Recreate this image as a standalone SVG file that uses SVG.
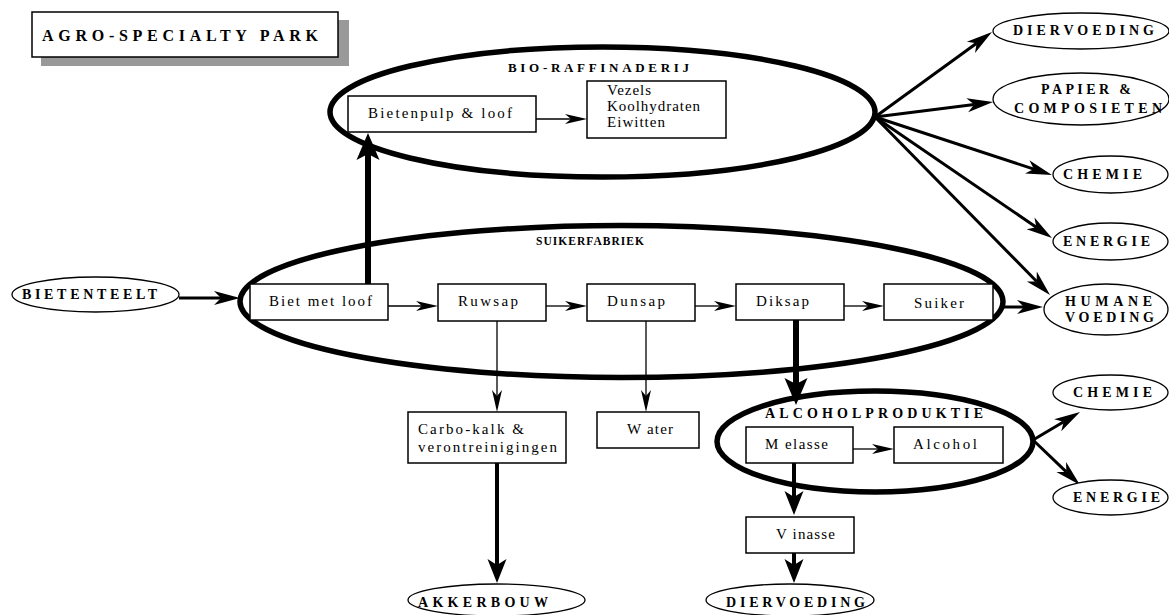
<svg xmlns="http://www.w3.org/2000/svg" width="1169" height="615" viewBox="0 0 1169 615" font-family="'Liberation Serif', 'Times New Roman', serif">
<style>
text{font-family:"Liberation Serif","Times New Roman",serif;fill:#000}
.b{font-weight:bold;font-size:14px}
.r{font-size:15px}
.box{fill:#fff;stroke:#000;stroke-width:1.5}
.nd{fill:#fff;stroke:#000;stroke-width:1.3}
.big{fill:none;stroke:#000;stroke-width:5.5}
.c1{stroke:#000;stroke-width:1.3;fill:none;marker-end:url(#m1)}
.c3{stroke:#000;stroke-width:3;fill:none;marker-end:url(#m3)}
.c4{stroke:#000;stroke-width:4;fill:none;marker-end:url(#m4)}
.c6{stroke:#000;stroke-width:6;fill:none;marker-end:url(#m6)}
</style>
<defs>
<marker id="m1" markerUnits="userSpaceOnUse" orient="auto" refX="6" refY="0" markerWidth="30" markerHeight="30" overflow="visible"><path d="M0,-5 L22,0 L0,5 L6,0 Z" fill="#000"/></marker>
<marker id="m3" markerUnits="userSpaceOnUse" orient="auto" refX="7" refY="0" markerWidth="30" markerHeight="30" overflow="visible"><path d="M0,-7 L26,0 L0,7 L7,0 Z" fill="#000"/></marker>
<marker id="m4" markerUnits="userSpaceOnUse" orient="auto" refX="6" refY="0" markerWidth="30" markerHeight="30" overflow="visible"><path d="M0,-9.5 L24,0 L0,9.5 L6,0 Z" fill="#000"/></marker>
<marker id="m6" markerUnits="userSpaceOnUse" orient="auto" refX="6" refY="0" markerWidth="30" markerHeight="30" overflow="visible"><path d="M0,-11.5 L27,0 L0,11.5 L6,0 Z" fill="#000"/></marker>
</defs>
<rect width="1169" height="615" fill="#fff"/>

<g id="title">
<rect x="41" y="20" width="308" height="46" fill="#999"/>
<rect x="32" y="12" width="306" height="45" class="box"/>
<text x="42" y="41" class="b" style="font-size:16px" textLength="276" lengthAdjust="spacing">AGRO-SPECIALTY PARK</text>
</g>

<g id="bio-raffinaderij">
<ellipse cx="602.5" cy="112" rx="272.5" ry="65" class="big"/>
<text x="508" y="72" class="b" style="font-size:13px" textLength="181" lengthAdjust="spacing">BIO-RAFFINADERIJ</text>
</g>
<g id="suikerfabriek">
<ellipse cx="621.5" cy="301.5" rx="381.5" ry="76" class="big"/>
<text x="536" y="245" class="b" style="font-size:11.5px" textLength="108" lengthAdjust="spacing">SUIKERFABRIEK</text>
</g>
<g id="alcoholproduktie">
<ellipse cx="875" cy="441.5" rx="158" ry="50.5" class="big"/>
<text x="765" y="418" class="b" style="font-size:14px" textLength="218" lengthAdjust="spacing">ALCOHOLPRODUKTIE</text>
</g>

<g id="connectors">
<line x1="536" y1="119" x2="571" y2="119" class="c1"/>
<line x1="388" y1="306" x2="422" y2="306" class="c1"/>
<line x1="546" y1="306" x2="571" y2="306" class="c1"/>
<line x1="695" y1="306" x2="720" y2="306" class="c1"/>
<line x1="844" y1="306" x2="868" y2="306" class="c1"/>
<line x1="497" y1="321" x2="497" y2="396" class="c1"/>
<line x1="646" y1="321" x2="646" y2="396" class="c1"/>
<line x1="853" y1="449" x2="878" y2="449" class="c1"/>
<line x1="179" y1="298" x2="221" y2="298" class="c3"/>
<line x1="1003" y1="307" x2="1024" y2="307" class="c3"/>
<line x1="875" y1="117" x2="976.6" y2="43.2" class="c3"/>
<line x1="875" y1="117" x2="974.2" y2="104.4" class="c3"/>
<line x1="875" y1="117" x2="1033.9" y2="169.1" class="c3"/>
<line x1="875" y1="117" x2="1036.3" y2="227.3" class="c3"/>
<line x1="875" y1="117" x2="1036.7" y2="281.5" class="c3"/>
<line x1="1033" y1="440" x2="1063.7" y2="421.7" class="c3"/>
<line x1="1033" y1="440" x2="1066.3" y2="471.9" class="c3"/>
<line x1="497" y1="463" x2="497" y2="565" class="c4"/>
<line x1="794" y1="463" x2="794" y2="497" class="c4"/>
<line x1="794" y1="553" x2="794" y2="565" class="c4"/>
<line x1="368" y1="284" x2="368" y2="154" class="c6"/>
<line x1="796" y1="320" x2="796" y2="384" class="c6"/>
</g>

<g id="bietenpulp"><rect x="348" y="96" width="188" height="36" class="box"/><text x="368" y="118" class="r" textLength="144" lengthAdjust="spacing">Bietenpulp &amp; loof</text></g>
<g id="vezels"><rect x="587" y="81" width="139" height="57" class="box"/>
<text x="607" y="95" class="r" textLength="44" lengthAdjust="spacing">Vezels</text>
<text x="607" y="111" class="r" textLength="93" lengthAdjust="spacing">Koolhydraten</text>
<text x="607" y="127" class="r" textLength="58" lengthAdjust="spacing">Eiwitten</text></g>

<g id="biet"><rect x="250" y="284" width="138" height="36" class="box"/><text x="269" y="306" class="r" textLength="103" lengthAdjust="spacing">Biet met loof</text></g>
<g id="ruwsap"><rect x="438" y="284" width="108" height="37" class="box"/><text x="458" y="306" class="r" textLength="60" lengthAdjust="spacing">Ruwsap</text></g>
<g id="dunsap"><rect x="587" y="284" width="108" height="37" class="box"/><text x="607" y="306" class="r" textLength="58" lengthAdjust="spacing">Dunsap</text></g>
<g id="diksap"><rect x="736" y="284" width="108" height="36" class="box"/><text x="756" y="306" class="r" textLength="53" lengthAdjust="spacing">Diksap</text></g>
<g id="suiker"><rect x="884" y="284" width="109" height="36" class="box"/><text x="914" y="308" class="r" textLength="50" lengthAdjust="spacing">Suiker</text></g>

<g id="carbo"><rect x="408" y="412" width="158" height="51" class="box"/>
<text x="418" y="434" class="r" textLength="106" lengthAdjust="spacing">Carbo-kalk &amp;</text>
<text x="418" y="452" class="r" textLength="139" lengthAdjust="spacing">verontreinigingen</text></g>
<g id="water"><rect x="597" y="412" width="102" height="36" class="box"/><text x="627" y="434" class="r" textLength="46" lengthAdjust="spacing">W ater</text></g>
<g id="melasse"><rect x="746" y="427" width="107" height="36" class="box"/><text x="765" y="449" class="r" textLength="63" lengthAdjust="spacing">M elasse</text></g>
<g id="alcohol"><rect x="894" y="427" width="109" height="36" class="box"/><text x="913" y="449" class="r" textLength="64" lengthAdjust="spacing">Alcohol</text></g>
<g id="vinasse"><rect x="746" y="517" width="108" height="36" class="box"/><text x="776" y="539" class="r" textLength="59" lengthAdjust="spacing">V inasse</text></g>

<g id="bietenteelt"><ellipse cx="95.5" cy="294.5" rx="83.5" ry="17.5" class="nd"/><text x="22" y="299" class="b" textLength="135" lengthAdjust="spacing">BIETENTEELT</text></g>
<g id="diervoeding-top"><ellipse cx="1081" cy="31" rx="88" ry="18" class="nd"/><text x="1013" y="35" class="b" textLength="141" lengthAdjust="spacing">DIERVOEDING</text></g>
<g id="papier"><ellipse cx="1081" cy="99" rx="88" ry="26" class="nd"/>
<text x="1041" y="94" class="b" textLength="90" lengthAdjust="spacing">PAPIER &amp;</text>
<text x="1014" y="113" class="b" textLength="148" lengthAdjust="spacing">COMPOSIETEN</text></g>
<g id="chemie-top"><ellipse cx="1110.5" cy="174.5" rx="57.5" ry="18.5" class="nd"/><text x="1063" y="179" class="b" textLength="79" lengthAdjust="spacing">CHEMIE</text></g>
<g id="energie-top"><ellipse cx="1110.5" cy="241.5" rx="57.5" ry="18.5" class="nd"/><text x="1063" y="246" class="b" textLength="87" lengthAdjust="spacing">ENERGIE</text></g>
<g id="humane"><ellipse cx="1106" cy="309.5" rx="62" ry="25.5" class="nd"/>
<text x="1065" y="306" class="b" textLength="87" lengthAdjust="spacing">HUMANE</text>
<text x="1065" y="322" class="b" textLength="89" lengthAdjust="spacing">VOEDING</text></g>
<g id="chemie-bottom"><ellipse cx="1110.5" cy="392.5" rx="57.5" ry="17.5" class="nd"/><text x="1073" y="397" class="b" textLength="79" lengthAdjust="spacing">CHEMIE</text></g>
<g id="energie-bottom"><ellipse cx="1110.5" cy="497.5" rx="57.5" ry="17.5" class="nd"/><text x="1073" y="502" class="b" textLength="87" lengthAdjust="spacing">ENERGIE</text></g>
<g id="akkerbouw"><ellipse cx="496.5" cy="600" rx="88.5" ry="16" class="nd"/><text x="418" y="607" class="b" textLength="130" lengthAdjust="spacing">AKKERBOUW</text></g>
<g id="diervoeding-bottom"><ellipse cx="790" cy="600" rx="84" ry="16" class="nd"/><text x="726" y="607" class="b" textLength="139" lengthAdjust="spacing">DIERVOEDING</text></g>
</svg>
